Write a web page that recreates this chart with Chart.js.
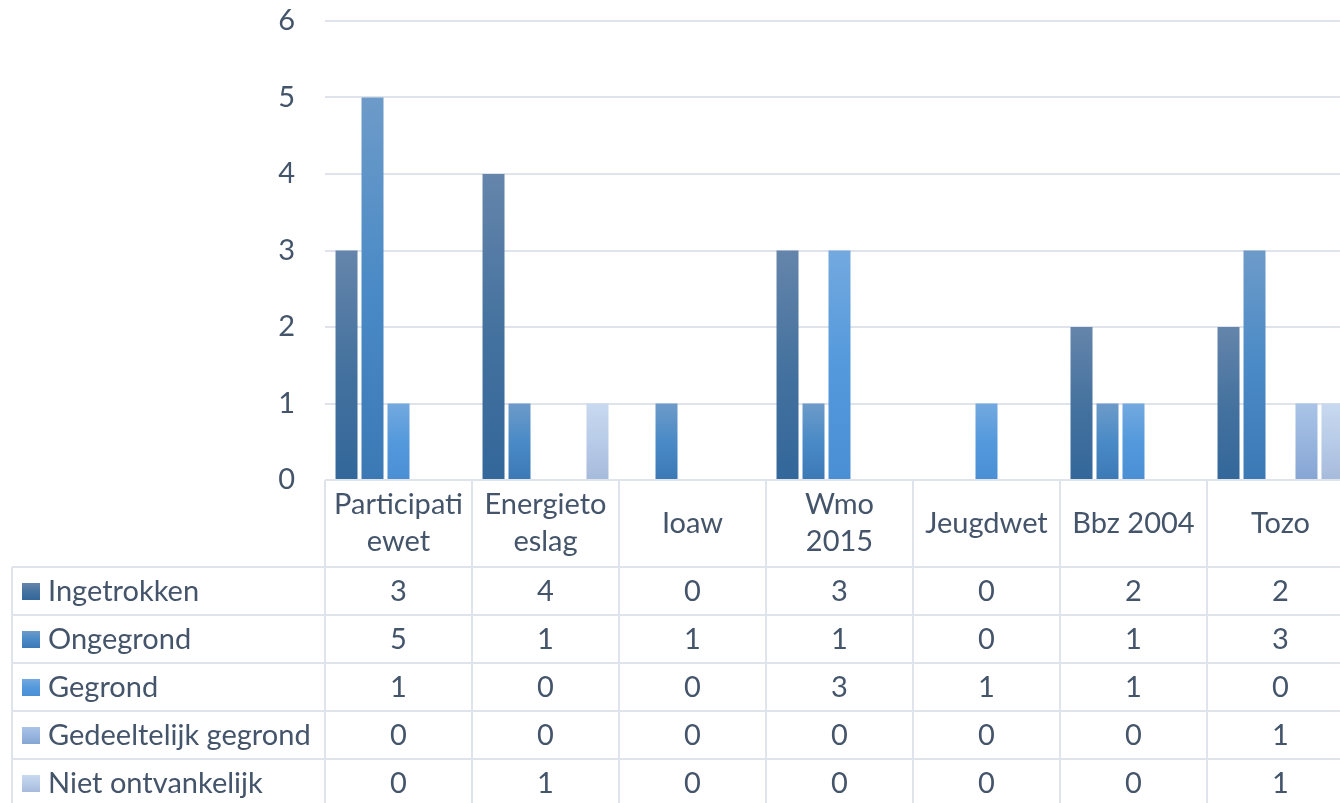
<!DOCTYPE html>
<html>
<head>
<meta charset="utf-8">
<script src="https://cdn.jsdelivr.net/npm/chart.js@4/dist/chart.umd.min.js"></script>
<style>
  html, body { margin: 0; padding: 0; background: #fff; overflow: hidden; }
  #wrap { width: 1340px; height: 803px; overflow: hidden; }
</style>
</head>
<body>
<div id="wrap"><canvas id="chart" width="1355" height="803"></canvas></div>
<script>
// categories (multi-line as in the original table header)
const categories = [["Participati", "ewet"], ["Energieto", "eslag"], "Ioaw", ["Wmo", "2015"], "Jeugdwet", "Bbz 2004", "Tozo"];

const seriesNames = ["Ingetrokken", "Ongegrond", "Gegrond", "Gedeeltelijk gegrond", "Niet ontvankelijk"];
const ingetrokken = [3, 4, 0, 3, 0, 2, 2];
const ongegrond = [5, 1, 1, 1, 0, 1, 3];
const gegrond = [1, 0, 0, 3, 1, 1, 0];
const gedeeltelijkGegrond = [0, 0, 0, 0, 0, 0, 1];
const nietOntvankelijk = [0, 1, 0, 0, 0, 0, 1];

const yTicks = [0, 1, 2, 3, 4, 5, 6];

// gradient stops per series: top, middle, bottom
const fills = [
    ['#6585ab', '#45729f', '#33679a'],
    ['#6d9bc9', '#4a8ac6', '#3b79b5'],
    ['#73a9df', '#5499dc', '#4a8fd3'],
    ['#aac4e6', '#98b5df', '#86a5d2'],
    ['#c8d9ef', '#b8cbe8', '#a6badb'],
];

const textColor = '#44546a';
const lineColor = '#dfe3eb';
const fontFamily = 'Lato, "Noto Sans", sans-serif';
const fontSize = 29;

function gradient(ctx2d, top, bottom, stops) {
    const g = ctx2d.createLinearGradient(0, top, 0, bottom);
    g.addColorStop(0, stops[0]);
    g.addColorStop(0.5, stops[1]);
    g.addColorStop(1, stops[2]);
    return g;
}

function barFill(idx) {
    return function (ctx) {
        const chart = ctx.chart;
        const y = chart.scales.y;
        if (ctx.type !== 'data' || !y || !chart.chartArea) return fills[idx][1];
        const y0 = y.getPixelForValue(0);
        const y1 = y.getPixelForValue(ctx.raw);
        if (y1 === y0) return fills[idx][2];
        return gradient(chart.ctx, y1, y0, fills[idx]);
    };
}

const values = [ingetrokken, ongegrond, gegrond, gedeeltelijkGegrond, nietOntvankelijk];

// data table below the plot
const dataTable = {
    id: 'dataTable',
    afterDatasetsDraw(chart) {
        const c = chart.ctx;
        const x = chart.scales.x;
        const area = chart.chartArea;
        const n = categories.length;
        const colW = (x.right - x.left) / n;
        const headTop = area.bottom;
        const headBottom = x.bottom;
        const rowH = 48;
        const legendLeft = 12;
        const tableBottom = headBottom + rowH * seriesNames.length;

        c.save();
        c.strokeStyle = lineColor;
        c.lineWidth = 2;
        c.beginPath();
        // axis line / header top
        c.moveTo(x.left, headTop); c.lineTo(x.right, headTop);
        // column separators
        for (let i = 0; i <= n; i++) {
            const px = x.left + colW * i;
            c.moveTo(px, headTop); c.lineTo(px, tableBottom);
        }
        // legend column left border
        c.moveTo(legendLeft, headBottom); c.lineTo(legendLeft, tableBottom);
        // row lines
        for (let r = 0; r <= seriesNames.length; r++) {
            const py = headBottom + rowH * r;
            c.moveTo(legendLeft, py); c.lineTo(x.right, py);
        }
        c.stroke();

        c.font = fontSize + 'px ' + fontFamily;
        c.fillStyle = textColor;
        c.textBaseline = 'middle';
        for (let r = 0; r < seriesNames.length; r++) {
            const cy = headBottom + rowH * r + rowH / 2;
            // legend key
            const ky = cy - 8;
            c.fillStyle = gradient(c, ky, ky + 17, fills[r]);
            c.fillRect(22, ky, 18, 17);
            c.fillStyle = textColor;
            c.textAlign = 'left';
            c.fillText(seriesNames[r], 48, cy + 1);
            c.textAlign = 'center';
            for (let i = 0; i < n; i++) {
                c.fillText(String(values[r][i]), x.left + colW * i + colW / 2, cy + 1);
            }
        }
        c.restore();
    }
};

new Chart(document.getElementById('chart'), {
    type: 'bar',
    data: {
        labels: categories,
        datasets: seriesNames.map((name, i) => ({
            label: name,
            data: values[i],
            backgroundColor: barFill(i),
            borderWidth: 0,
            categoryPercentage: 0.884,
            barPercentage: 0.846,
        })),
    },
    options: {
        responsive: false,
        animation: false,
        layout: { padding: { top: 21, right: 1, bottom: 236, left: 0 } },
        plugins: {
            legend: { display: false },
            tooltip: { enabled: false },
        },
        scales: {
            x: {
                grid: { display: false },
                border: { display: false },
                ticks: {
                    color: textColor,
                    font: { family: fontFamily, size: fontSize, lineHeight: 1.28 },
                    padding: 17,
                    maxRotation: 0,
                    autoSkip: false,
                    crossAlign: 'center',
                },
                afterFit(scale) { scale.height = 87; },
            },
            y: {
                min: 0,
                max: 6,
                afterBuildTicks(scale) { scale.ticks = yTicks.map(v => ({ value: v })); },
                grid: { color: lineColor, lineWidth: 2, drawTicks: false },
                border: { display: false },
                ticks: {
                    color: textColor,
                    font: { family: fontFamily, size: fontSize },
                    padding: 30,
                },
                afterFit(scale) {
                    scale.width = 325;
                    scale.paddingTop = 0;
                    scale.paddingBottom = 0;
                },
            },
        },
    },
    plugins: [dataTable],
});
</script>
</body>
</html>
